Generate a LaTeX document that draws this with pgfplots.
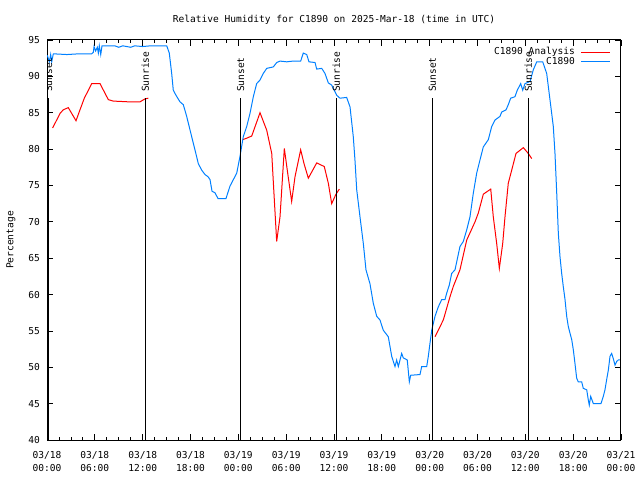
\documentclass[border=0pt]{standalone}
\usepackage{pgfplots}
\pgfplotsset{compat=1.18}
\usepackage{fontspec}
\setmainfont{DejaVu Sans Mono}
\definecolor{obsblue}{RGB}{0,128,255}
\definecolor{anared}{RGB}{255,0,0}

\pgfplotstableread{
t v
0.71 82.9
1.63 84.9
2.04 85.4
2.67 85.7
3.64 83.9
4.14 85.4
4.68 87.0
5.61 89.0
6.65 89.0
7.69 86.8
8.32 86.6
10.20 86.5
11.67 86.5
12.29 86.9
12.71 87.0
12.9 nan
24.55 81.3
25.05 81.5
25.68 81.8
26.72 85.0
27.56 82.6
28.19 79.4
28.47 73.9
28.81 67.3
29.23 70.7
29.77 80.1
30.14 77.1
30.69 72.8
31.11 76.2
31.82 79.9
32.24 78.0
32.78 76.0
33.83 78.1
34.78 77.6
35.29 75.3
35.71 72.5
36.25 73.8
36.67 74.5
37.0 nan
48.67 54.2
49.71 56.5
50.55 59.7
50.96 61.1
51.80 63.4
52.65 67.5
53.69 70.0
54.10 71.2
54.73 73.8
55.66 74.5
55.98 70.7
56.41 67.0
56.74 63.6
57.16 67.0
57.45 70.7
57.86 75.3
58.29 77.1
58.83 79.4
59.75 80.2
60.37 79.4
60.80 78.7
}\anadata

\pgfplotstableread{
t v
0.04 92.9
0.29 92.0
0.46 93.0
0.59 92.0
0.79 93.1
2.5 93.0
4.0 93.1
5.6 93.1
5.81 93.3
5.90 94.1
6.10 93.5
6.31 94.0
6.44 93.2
6.56 94.2
6.74 93.0
6.90 94.2
8.5 94.2
9.0 94.0
9.5 94.2
10.5 94.0
11.0 94.2
12.0 94.1
13.0 94.2
15.02 94.2
15.34 93.2
15.64 90.4
15.84 88.1
16.18 87.4
16.68 86.5
17.10 86.1
17.52 84.5
18.15 81.7
18.56 79.9
18.98 78.0
19.41 77.1
19.82 76.5
20.20 76.2
20.45 75.8
20.70 74.2
21.07 74.0
21.45 73.2
22.45 73.2
22.95 74.9
23.80 76.7
24.21 79.0
24.62 81.7
25.05 83.1
25.46 84.9
25.88 87.2
26.30 89.0
26.72 89.5
27.13 90.4
27.56 91.1
28.39 91.3
28.81 91.9
29.23 92.1
30.07 92.0
30.86 92.1
31.82 92.1
32.15 93.2
32.58 93.0
32.86 92.0
33.62 91.9
33.83 91.0
34.46 91.1
34.87 90.4
35.29 89.1
35.71 88.8
36.34 87.4
36.75 87.0
37.59 87.1
38.01 85.8
38.42 81.7
38.63 78.5
38.85 74.4
39.26 70.7
39.68 67.0
40.01 63.4
40.51 61.5
40.93 58.8
41.36 57.0
41.77 56.5
42.18 55.1
42.81 54.2
43.24 51.5
43.65 50.1
43.86 51.0
44.07 50.1
44.28 51.0
44.49 51.9
44.69 51.3
45.19 51.0
45.45 48.0
45.62 48.9
46.79 49.0
47.00 50.1
47.63 50.1
47.83 51.5
48.04 53.3
48.26 55.1
48.67 57.0
49.08 58.3
49.51 59.3
49.92 59.3
50.14 60.2
50.46 61.3
50.76 62.9
51.18 63.4
51.80 66.6
52.22 67.3
52.65 68.9
53.06 70.7
53.47 73.9
53.90 76.7
54.31 78.5
54.73 80.3
55.36 81.3
55.78 83.1
56.20 84.0
56.82 84.5
57.04 85.1
57.58 85.4
57.86 86.1
58.16 87.0
58.70 87.2
58.99 88.1
59.42 89.0
59.67 88.1
59.96 89.0
60.59 89.3
61.00 90.9
61.43 92.0
62.18 92.0
62.68 90.4
63.09 86.8
63.51 83.1
63.72 79.4
63.94 73.9
64.14 68.4
64.35 65.2
64.56 62.9
64.76 61.1
64.98 59.3
65.19 57.0
65.39 55.6
65.60 54.7
65.82 53.8
66.02 52.4
66.23 50.5
66.44 48.5
66.64 48.0
67.07 48.0
67.27 47.1
67.70 46.9
67.90 45.5
68.02 44.8
68.20 46.0
68.53 45.0
69.49 45.0
69.78 46.0
69.99 46.9
70.20 48.3
70.41 49.6
70.62 51.5
70.83 51.9
71.03 51.2
71.25 50.3
71.46 50.8
71.66 51.0
71.87 51.0
}\obsdata

\begin{document}
\begin{tikzpicture}[font=\fontsize{9.6}{11}\selectfont]
\begin{axis}[
  scale only axis, width=574bp, height=400bp,
  xmin=0, xmax=72, ymin=40, ymax=95,
  xtick={0,6,...,72}, minor x tick num=3,
  xticklabels={{03/18\\00:00},{03/18\\06:00},{03/18\\12:00},{03/18\\18:00},
               {03/19\\00:00},{03/19\\06:00},{03/19\\12:00},{03/19\\18:00},
               {03/20\\00:00},{03/20\\06:00},{03/20\\12:00},{03/20\\18:00},
               {03/21\\00:00}},
  xticklabel style={align=center, anchor=north, inner sep=0pt, yshift=-11bp,
    font=\fontsize{9.6}{13.5}\selectfont},
  ytick={40,45,...,95},
  yticklabel style={anchor=east, inner sep=0pt, xshift=-7bp},
  /pgf/number format/assume math mode=true,
  tick align=inside, major tick length=6bp, minor tick length=3bp,
  tick style={black, line width=0.8bp},
  axis line style={line width=1bp},
  title={Relative Humidity for C1890 on 2025-Mar-18 (time in UTC)},
  title style={at={(axis description cs:0.5,1)}, anchor=center, yshift=14bp, inner sep=0pt},
  ylabel={Percentage},
  ylabel style={at={(axis description cs:-0.0627,0.5)}, anchor=center, inner sep=0pt},
  legend style={draw=none, fill=none, at={(axis description cs:1,1)}, anchor=north east,
    xshift=-7bp, yshift=-3.5bp, cells={anchor=east}, row sep=-3bp, column sep=4bp,
    font=\fontsize{9.6}{11}\selectfont},
  legend plot pos=right,
  unbounded coords=jump,
  clip=true,
]
\addlegendimage{legend image code/.code={\draw[anared, line width=1bp] (0bp,0bp) -- (29bp,0bp);}}
\addlegendentry{C1890 Analysis}
\addlegendimage{legend image code/.code={\draw[obsblue, line width=1bp] (0bp,0bp) -- (29bp,0bp);}}
\addlegendentry{C1890}
\addplot[anared, line width=1bp, forget plot] table[x=t, y=v] {\anadata};
\addplot[obsblue, line width=1bp, forget plot] table[x=t, y=v] {\obsdata};

\addplot[black, line width=1bp, forget plot] coordinates {(0.2,40) (0.2,87)};
\addplot[black, line width=1bp, forget plot] coordinates {(12.33,40) (12.33,87)};
\addplot[black, line width=1bp, forget plot] coordinates {(24.30,40) (24.30,87)};
\addplot[black, line width=1bp, forget plot] coordinates {(36.29,40) (36.29,87)};
\addplot[black, line width=1bp, forget plot] coordinates {(48.33,40) (48.33,87)};
\addplot[black, line width=1bp, forget plot] coordinates {(60.37,40) (60.37,87)};
\node[rotate=90, anchor=west, inner sep=0pt] at (axis cs:0.2,87.85) {Sunset};
\node[rotate=90, anchor=west, inner sep=0pt] at (axis cs:12.33,87.85) {Sunrise};
\node[rotate=90, anchor=west, inner sep=0pt] at (axis cs:24.30,87.85) {Sunset};
\node[rotate=90, anchor=west, inner sep=0pt] at (axis cs:36.29,87.85) {Sunrise};
\node[rotate=90, anchor=west, inner sep=0pt] at (axis cs:48.33,87.85) {Sunset};
\node[rotate=90, anchor=west, inner sep=0pt] at (axis cs:60.37,87.85) {Sunrise};
\end{axis}
\pgfresetboundingbox
\path (-47bp,-40bp) rectangle (593bp,440bp);
\end{tikzpicture}
\end{document}
